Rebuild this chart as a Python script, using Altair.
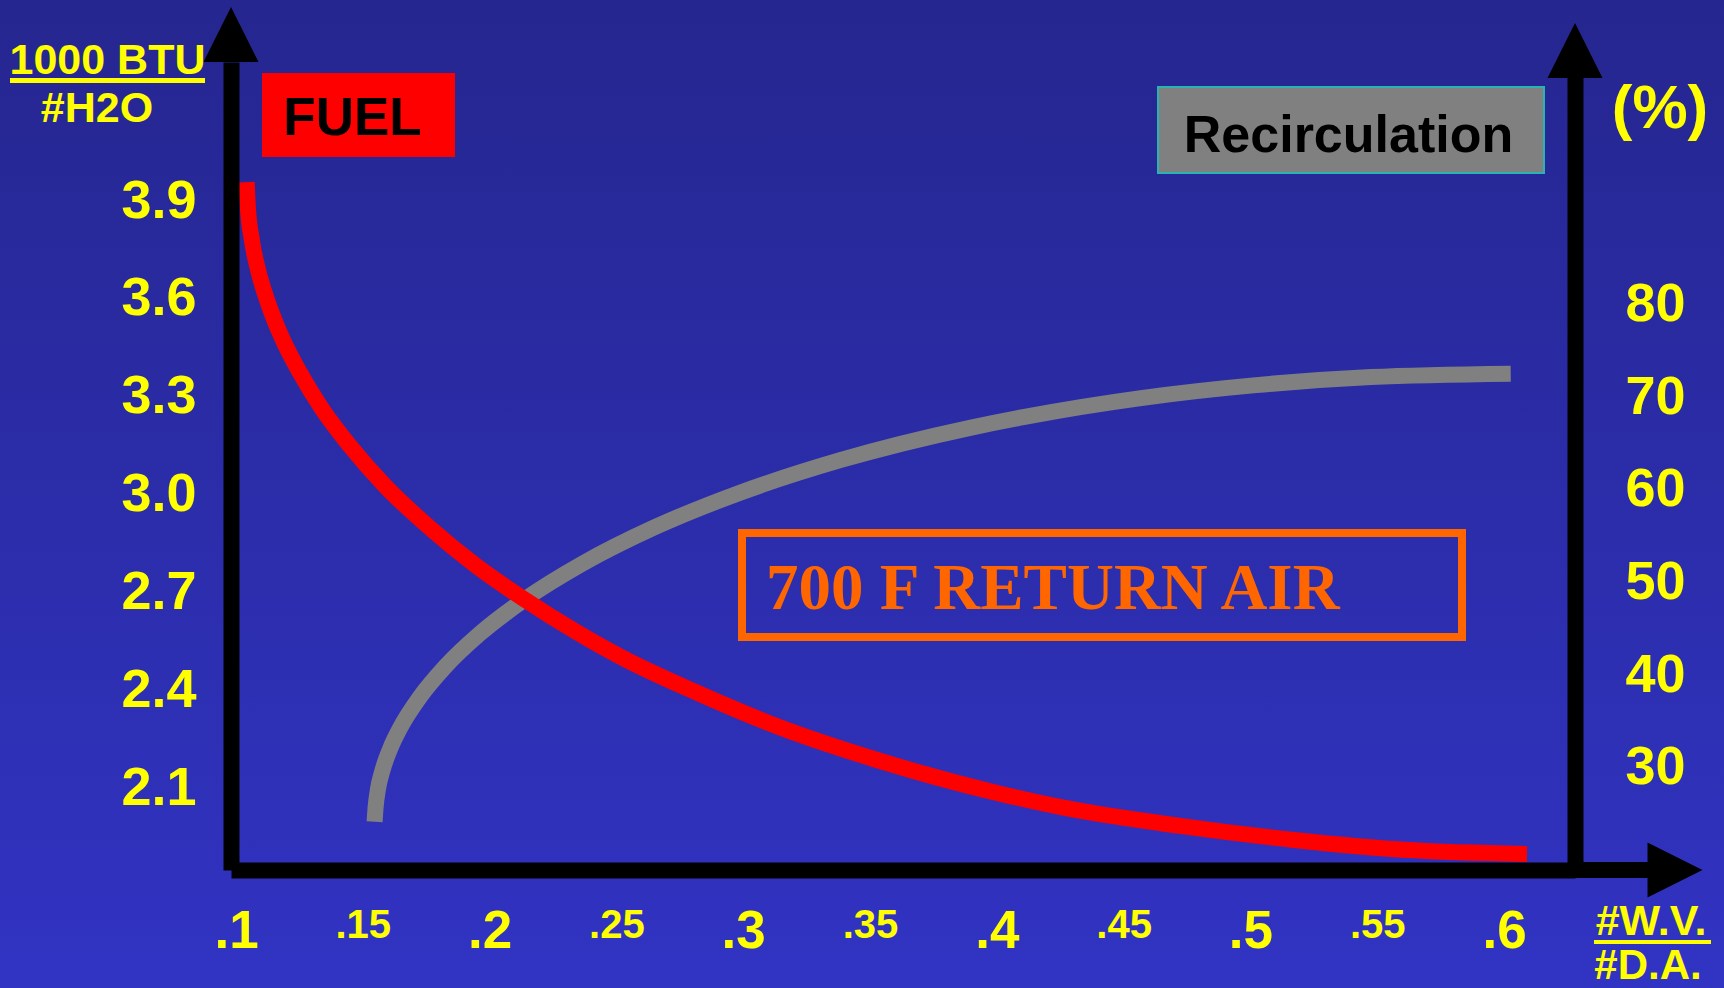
import altair as alt
import pandas as pd

# ---- canvas geometry (pixels) ----
CANVAS_W, CANVAS_H = 1724, 988
LEFT, TOP, RIGHT, BOTTOM = 231, 62, 1575, 870
PLOT_W, PLOT_H = RIGHT - LEFT, BOTTOM - TOP

YELLOW = "#FFFF00"
SANS = "Liberation Sans"
SERIF = "Liberation Serif"

# ---- data ----
# fuel use (1000 BTU per # H2O) against humidity ratio (#W.V./#D.A.)
fuel_ratio = [0.10422, 0.10473, 0.10631, 0.10868, 0.11262, 0.11814, 0.12524,
              0.13391, 0.14495, 0.15875, 0.17650, 0.19424, 0.21356, 0.23367,
              0.25418, 0.28218, 0.31412, 0.35276, 0.40008, 0.42689, 0.47224,
              0.51719, 0.56254, 0.60907]
fuel_btu = [3.958, 3.876, 3.778, 3.689, 3.588, 3.480, 3.373,
            3.263, 3.149, 3.027, 2.898, 2.785, 2.680, 2.582,
            2.493, 2.392, 2.288, 2.187, 2.086, 2.040, 1.985,
            1.942, 1.911, 1.899]

# recirculation (%) against humidity ratio
recirc_ratio = [0.15465, 0.15501, 0.15599, 0.15757, 0.16073, 0.16467, 0.17256,
                0.18241, 0.19621, 0.21380, 0.23644, 0.26483, 0.29795, 0.33856,
                0.38943, 0.41151, 0.45686, 0.50221, 0.54756, 0.60265]
recirc_pct = [24.16, 25.59, 27.68, 29.52, 32.00, 34.26, 37.64,
              40.88, 44.48, 48.16, 52.01, 55.93, 59.62, 63.24,
              66.71, 67.92, 69.92, 71.32, 72.19, 72.56]

x_ticks = [0.1, 0.15, 0.2, 0.25, 0.3, 0.35, 0.4, 0.45, 0.5, 0.55, 0.6]
fuel_ticks = [2.1, 2.4, 2.7, 3.0, 3.3, 3.6, 3.9]
recirc_ticks = [30, 40, 50, 60, 70, 80]

X_DOMAIN = [0.098028, 0.627997]
FUEL_DOMAIN = [1.84983, 4.32608]
RECIRC_DOMAIN = [18.937, 106.232]

fuel_df = pd.DataFrame({"ratio": fuel_ratio, "btu": fuel_btu})
recirc_df = pd.DataFrame({"ratio": recirc_ratio, "pct": recirc_pct})
one = pd.DataFrame({"k": [0]})


def px(x):
    return x - LEFT


def py(y):
    return y - TOP


axis_common = dict(
    title=None, domainColor="black", domainWidth=16, domainCap="butt",
    ticks=False, tickSize=0, grid=False, labelColor=YELLOW, labelFont=SANS,
    labelFontWeight="bold", labelOverlap=False, labelFlush=False,
    labelBound=False, zindex=1,
)

x_axis = alt.Axis(
    values=x_ticks,
    labelExpr="substring(format(datum.value, '.2~f'), 1)",
    labelFontSize={"condition": {"test": "round(datum.value * 100) % 10 == 0", "value": 53},
                   "value": 40},
    labelBaseline="top", labelPadding=35, **axis_common,
)
fuel_axis = alt.Axis(orient="left", values=fuel_ticks, format=".1f", labelFontSize=54,
                     labelBaseline="middle", labelAlign="right", labelPadding=35,
                     **axis_common)
recirc_axis = alt.Axis(orient="right", values=recirc_ticks, format="d", labelFontSize=54,
                       labelBaseline="middle", labelAlign="left", labelPadding=50,
                       **axis_common)

x_enc = alt.X("ratio:Q", scale=alt.Scale(domain=X_DOMAIN, nice=False, zero=False), axis=x_axis)

# background wash
background = alt.Chart(one).mark_rect(
    fill=alt.LinearGradient(
        gradient="linear", x1=0, y1=0, x2=0, y2=1,
        stops=[alt.GradientStop(offset=0, color="#25268F"),
               alt.GradientStop(offset=1, color="#3133C3")],
    ),
    strokeWidth=0,
).encode(x=alt.value(px(0)), x2=alt.value(px(CANVAS_W)),
         y=alt.value(py(0)), y2=alt.value(py(CANVAS_H)))

recirc_line = alt.Chart(recirc_df).mark_line(
    color="#808080", strokeWidth=16, interpolate="monotone", strokeCap="butt"
).encode(
    x=x_enc,
    y=alt.Y("pct:Q", scale=alt.Scale(domain=RECIRC_DOMAIN, nice=False, zero=False),
            axis=recirc_axis),
)

fuel_line = alt.Chart(fuel_df).mark_line(
    color="#FF0000", strokeWidth=16, interpolate="monotone", strokeCap="butt"
).encode(
    x=x_enc,
    y=alt.Y("btu:Q", scale=alt.Scale(domain=FUEL_DOMAIN, nice=False, zero=False),
            axis=fuel_axis),
)


def box(x0, x1, y0, y1, **style):
    return alt.Chart(one).mark_rect(**style).encode(
        x=alt.value(px(x0)), x2=alt.value(px(x1)),
        y=alt.value(py(y0)), y2=alt.value(py(y1)))


def label(text, x, y, size, color=YELLOW, align="center", font=SANS):
    return alt.Chart(pd.DataFrame({"t": [text]})).mark_text(
        font=font, fontWeight="bold", fontSize=size, color=color,
        align=align, baseline="alphabetic",
    ).encode(text="t:N", x=alt.value(px(x)), y=alt.value(py(y)))


def hrule(x0, x1, y, width, color):
    return alt.Chart(one).mark_rule(color=color, strokeWidth=width, strokeCap="butt").encode(
        x=alt.value(px(x0)), x2=alt.value(px(x1)), y=alt.value(py(y)))


def arrow(shape, cx, cy):
    return alt.Chart(one).mark_point(
        shape=shape, size=3025, filled=True, color="black", opacity=1, strokeWidth=0
    ).encode(x=alt.value(px(cx)), y=alt.value(py(cy)))


up = "M-1,1L1,1L0,-1Z"
right = "M-1,-1L1,0L-1,1Z"

layers = [
    background,
    box(262, 455, 73, 157, fill="#FF0000", strokeWidth=0),
    label("FUEL", 352.5, 135, 53, color="black"),
    box(1158, 1544, 87, 173, fill="#808080", stroke="#2AB3B0", strokeWidth=2),
    label("Recirculation", 1348.5, 152, 52, color="black"),
    box(742, 1462, 533, 637, fillOpacity=0, stroke="#FF6600", strokeWidth=8),
    label("700 F RETURN AIR", 766, 609, 65, color="#FF6600", align="left", font=SERIF),
    recirc_line,
    fuel_line,
    hrule(RIGHT, 1650, BOTTOM, 16, "black"),
    arrow(up, LEFT, 34.5),
    arrow(up, RIGHT, 50.5),
    arrow(right, 1675, BOTTOM),
    label("1000 BTU", 107.5, 74, 43),
    hrule(10, 205, 80.5, 5, YELLOW),
    label("#H2O", 97, 122, 43),
    label("(%)", 1660, 128, 62),
    label("#W.V.", 1651, 935, 43),
    hrule(1594, 1711, 942, 4, YELLOW),
    label("#D.A.", 1648, 979, 42),
]

chart = alt.layer(*layers).resolve_scale(y="independent").properties(
    width=PLOT_W, height=PLOT_H,
    padding={"left": LEFT, "top": TOP, "right": CANVAS_W - RIGHT, "bottom": CANVAS_H - BOTTOM},
    autosize=alt.AutoSizeParams(type="none"),
).configure(background="#2A2BA8").configure_view(strokeWidth=0)

chart.save("out.html", embed_options={"renderer": "svg", "actions": False})
